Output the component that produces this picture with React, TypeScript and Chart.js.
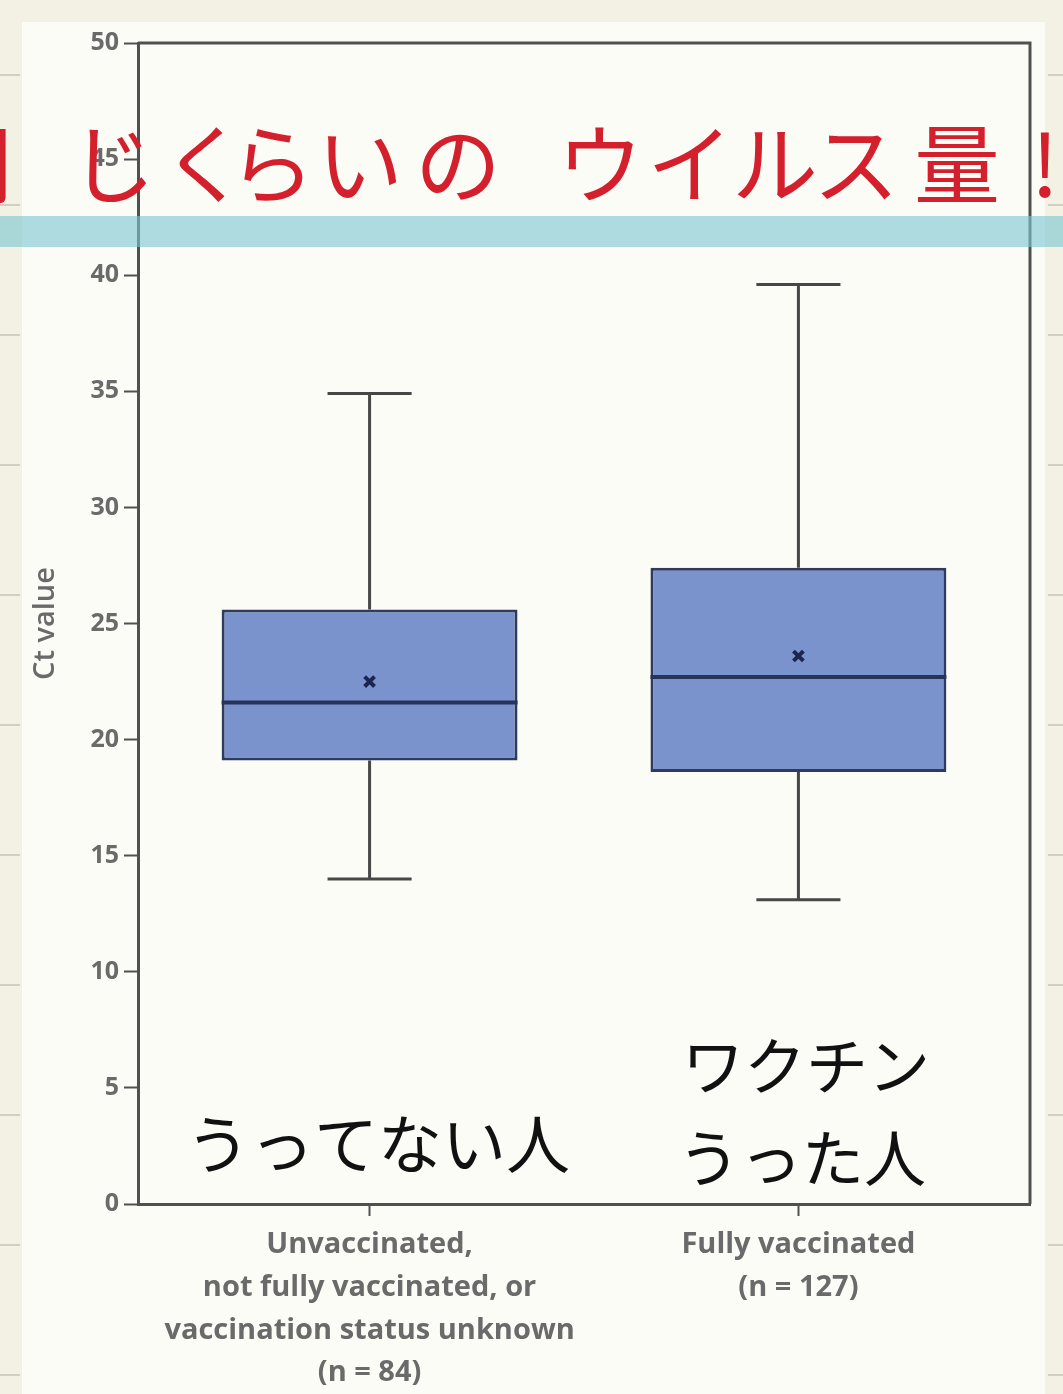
import React, { useEffect, useRef } from "react";
import { Chart, registerables } from "chart.js";

Chart.register(...registerables);

const W = 1063;
const H = 1394;

// ---- data ----
const categoryLabels: string[][] = [
  ["Unvaccinated,", "not fully vaccinated, or", "vaccination status unknown", "(n = 84)"],
  ["Fully vaccinated", "(n = 127)"],
];
const whiskerLow = [14.0, 13.1];
const quartile1 = [19.1, 18.6];
const medians = [21.6, 22.7];
const quartile3 = [25.6, 27.4];
const whiskerHigh = [34.9, 39.6];
const means = [22.5, 23.6];
const yMin = 0;
const yMax = 50;
const yStep = 5;
const yAxisTitle = "Ct value";
const headlineChars = ["同", "じ", "く", "ら", "い", "の", "ウ", "イ", "ル", "ス", "量", "!"];
const noteLeft = "うってない人";
const noteRight = ["ワクチン", "うった人"];

const AXIS = "#505050";
const LABEL = "#6a6a6a";
const BOX_FILL = "#7b93cc";
const BOX_EDGE = "#2e3a5e";
const MEDIAN = "#26335a";
const MEAN = "#1c2550";

const decorPlugin = {
  id: "decor",
  beforeDraw(chart: any) {
    const ctx = chart.ctx as CanvasRenderingContext2D;
    ctx.save();
    ctx.fillStyle = "#f2f1e3";
    ctx.fillRect(0, 0, W, H);
    ctx.fillStyle = "#fcfcf7";
    ctx.fillRect(22, 22, 1045 - 22, H - 22);
    ctx.strokeStyle = "#cfcfc5";
    ctx.lineWidth = 2;
    for (let yy = 75; yy < H; yy += 130) {
      ctx.beginPath();
      ctx.moveTo(0, yy);
      ctx.lineTo(20, yy);
      ctx.moveTo(1048, yy);
      ctx.lineTo(W, yy);
      ctx.stroke();
    }
    ctx.restore();
  },
  afterDatasetsDraw(chart: any) {
    const ctx = chart.ctx as CanvasRenderingContext2D;
    const { x, y } = chart.scales;
    const area = chart.chartArea;
    const barMeta = chart.getDatasetMeta(1);
    ctx.save();
    ctx.lineCap = "butt";
    const capHalf = x.getPixelForValue(0.098) - x.getPixelForValue(0);
    for (let i = 0; i < categoryLabels.length; i++) {
      const xp = x.getPixelForValue(i);
      ctx.strokeStyle = "#474747";
      ctx.lineWidth = 3;
      ctx.beginPath();
      ctx.moveTo(xp, y.getPixelForValue(quartile3[i]));
      ctx.lineTo(xp, y.getPixelForValue(whiskerHigh[i]));
      ctx.moveTo(xp - capHalf, y.getPixelForValue(whiskerHigh[i]));
      ctx.lineTo(xp + capHalf, y.getPixelForValue(whiskerHigh[i]));
      ctx.moveTo(xp, y.getPixelForValue(quartile1[i]));
      ctx.lineTo(xp, y.getPixelForValue(whiskerLow[i]));
      ctx.moveTo(xp - capHalf, y.getPixelForValue(whiskerLow[i]));
      ctx.lineTo(xp + capHalf, y.getPixelForValue(whiskerLow[i]));
      ctx.stroke();
      const el = barMeta.data[i];
      if (el) {
        const p = el.getProps(["x", "width"], true);
        ctx.strokeStyle = MEDIAN;
        ctx.lineWidth = 4;
        ctx.beginPath();
        ctx.moveTo(p.x - p.width / 2, y.getPixelForValue(medians[i]));
        ctx.lineTo(p.x + p.width / 2, y.getPixelForValue(medians[i]));
        ctx.stroke();
      }
    }
    ctx.strokeStyle = AXIS;
    ctx.lineWidth = 3;
    ctx.beginPath();
    ctx.moveTo(area.left, area.top);
    ctx.lineTo(area.right, area.top);
    ctx.lineTo(area.right, area.bottom);
    ctx.stroke();
    ctx.restore();
  },
  afterDraw(chart: any) {
    const ctx = chart.ctx as CanvasRenderingContext2D;
    ctx.save();
    // highlighter band
    ctx.fillStyle = "rgba(125, 198, 210, 0.62)";
    ctx.fillRect(0, 216, W, 31);
    // red handwritten headline
    const redX = [-30, 113, 205, 272, 360, 458, 600, 690, 775, 856, 957, 1045];
    ctx.fillStyle = "#d41f2c";
    ctx.font = '400 86px "Noto Sans CJK JP"';
    ctx.textAlign = "center";
    ctx.textBaseline = "middle";
    headlineChars.forEach((ch, i) => ctx.fillText(ch, redX[i], 164));
    // black handwritten notes
    ctx.fillStyle = "#111111";
    ctx.font = '400 64px "Noto Sans CJK JP"';
    ctx.textAlign = "left";
    ctx.fillText(noteLeft, 186, 1144);
    ctx.font = '400 62px "Noto Sans CJK JP"';
    ctx.fillText(noteRight[0], 682, 1066);
    ctx.fillText(noteRight[1], 678, 1158);
    ctx.restore();
  },
};

export default function App() {
  const ref = useRef<HTMLCanvasElement | null>(null);

  useEffect(() => {
    if (!ref.current) return;
    const barData = categoryLabels.map((_, i) => ({ x: i, y: [quartile1[i], quartile3[i]] }));
    const meanData = categoryLabels.map((_, i) => ({ x: i, y: means[i] }));
    const chart = new Chart(ref.current, {
      type: "bar",
      data: {
        datasets: [
          {
            type: "scatter",
            data: meanData,
            pointStyle: "crossRot",
            pointRadius: 7,
            pointBorderWidth: 4,
            borderColor: MEAN,
            backgroundColor: MEAN,
            order: 0,
          } as any,
          {
            type: "bar",
            data: barData as any,
            backgroundColor: BOX_FILL,
            borderColor: BOX_EDGE,
            borderWidth: 3,
            borderSkipped: false,
            barPercentage: 0.69,
            categoryPercentage: 1,
            order: 1,
          } as any,
        ],
      },
      options: {
        responsive: false,
        animation: false,
        events: [],
        layout: { padding: { top: 43, right: 33, left: 0, bottom: 0 } },
        plugins: { legend: { display: false }, tooltip: { enabled: false } },
        scales: {
          x: {
            type: "linear",
            min: -0.54,
            max: 1.54,
            offset: false,
            grid: {
              offset: false,
              drawOnChartArea: false,
              drawTicks: true,
              tickLength: 12,
              tickColor: AXIS,
              tickWidth: 2,
            },
            border: { display: true, color: AXIS, width: 3 },
            ticks: {
              stepSize: 1,
              includeBounds: false,
              autoSkip: false,
              maxRotation: 0,
              color: LABEL,
              padding: 7,
              font: { family: "Open Sans", size: 29, weight: "700", lineHeight: 1.48 },
              callback: (v: any) => {
                const n = Number(v);
                return Number.isInteger(n) && categoryLabels[n] ? categoryLabels[n] : "";
              },
            },
            afterFit: (s: any) => {
              s.height = H - 1204;
            },
          },
          y: {
            type: "linear",
            min: yMin,
            max: yMax,
            grid: {
              drawOnChartArea: false,
              drawTicks: true,
              tickLength: 14,
              tickColor: AXIS,
              tickWidth: 2,
            },
            border: { display: true, color: AXIS, width: 3 },
            ticks: {
              stepSize: yStep,
              color: LABEL,
              padding: 5,
              font: { family: "Open Sans", size: 25, weight: "700" },
            },
            title: {
              display: true,
              text: yAxisTitle,
              color: LABEL,
              padding: { top: 28, bottom: 0 },
              font: { family: "Open Sans", size: 29, weight: "600" },
            },
            afterFit: (s: any) => {
              s.width = 138;
            },
          },
        },
      } as any,
      plugins: [decorPlugin],
    });
    let alive = true;
    const fontsToLoad = [
      '600 25px "Open Sans"',
      '700 25px "Open Sans"',
      '400 84px "Noto Sans CJK JP"',
    ];
    Promise.all(fontsToLoad.map((f) => (document as any).fonts.load(f, "同じくらいAa0")))
      .then(() => {
        if (alive) chart.update();
      })
      .catch(() => {});
    return () => {
      alive = false;
      chart.destroy();
    };
  }, []);

  return (
    <div style={{ position: "fixed", left: 0, top: 0, width: W, height: H }}>
      <canvas ref={ref} width={W} height={H} style={{ display: "block", width: W, height: H }} />
    </div>
  );
}
